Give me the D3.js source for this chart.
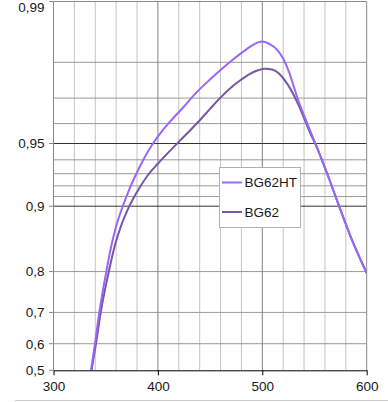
<!DOCTYPE html>
<html><head><meta charset="utf-8">
<script src="https://cdn.jsdelivr.net/npm/d3@7"></script>
<style>
html,body{margin:0;padding:0;background:#fff;}
svg{display:block;}
text{font-family:"Liberation Sans",Arial,sans-serif;font-size:13.5px;fill:#1a1a1a;}
</style></head>
<body>
<svg id="chart" width="388" height="402"></svg>
<script>
// ---- data ----
const seriesNames = ["BG62HT", "BG62"];
const wavelengthsHT = [335.9, 339.75, 343.87, 350.57, 355.56, 360.34, 366.09, 372.32, 379.02, 386.69, 394.35, 403.93, 413.51, 425.0, 436.49, 449.9, 461.4, 472.89, 484.39, 492.05, 499.71, 507.38, 514.08, 520.11, 525.57, 529.41, 532.95, 542.53, 551.44, 562.45, 572.8, 584.96, 600];
const transHT = [0.5, 0.6007, 0.6998, 0.7997, 0.8483, 0.8774, 0.8991, 0.9162, 0.9294, 0.9409, 0.9491, 0.9565, 0.9618, 0.9670, 0.9717, 0.9757, 0.9785, 0.9808, 0.9827, 0.9837, 0.9842, 0.9837, 0.9827, 0.9808, 0.9777, 0.9744, 0.9708, 0.9607, 0.9491, 0.9294, 0.9024, 0.8599, 0.7970];
const wavelengths62 = [336.4, 340.71, 345.21, 352.97, 358.91, 364.66, 370.4, 376.15, 382.85, 390.52, 400.1, 409.67, 419.25, 430.75, 440.33, 449.9, 459.48, 469.06, 478.64, 488.22, 495.88, 502.59, 509.29, 515.99, 521.74, 526.53, 531.32, 536.11, 540.9, 545.69, 551.44, 562.45, 572.8, 584.96, 600];
const trans62 = [0.5, 0.6007, 0.6998, 0.7997, 0.8483, 0.8761, 0.8946, 0.9075, 0.9189, 0.9290, 0.9375, 0.9445, 0.9505, 0.9568, 0.9616, 0.9661, 0.9700, 0.9731, 0.9754, 0.9772, 0.9781, 0.9785, 0.9783, 0.9773, 0.9754, 0.9732, 0.9702, 0.9663, 0.9614, 0.9558, 0.9489, 0.9294, 0.9024, 0.8599, 0.7970];
const xTicks = [300, 400, 500, 600];
const xMinorGrid = [320, 340, 360, 380, 420, 440, 460, 480, 520, 540, 560, 580];
const yTicks = [0.5, 0.6, 0.7, 0.8, 0.9, 0.95, 0.99];
const yTickLabels = ["0,5", "0,6", "0,7", "0,8", "0,9", "0,95", "0,99"];
const yGrid = [0.6, 0.7, 0.8, 0.91, 0.92, 0.93, 0.94, 0.96, 0.97, 0.98];
const yGridDark = [0.9, 0.95];
const colors = ["#9a66f7", "#7656a6"];

// ---- layout ----
const pLeft = 53.5, pRight = 366.7, pTop = 1.5, pBottom = 370.3;
const svg = d3.select("#chart");

// diabatic scale: log10(-log10(T))
const T = v => Math.log10(-Math.log10(v));
const yLin = d3.scaleLinear().domain([T(0.5), T(0.99)]).range([pBottom, pTop]);
const y = v => yLin(T(v));
const x = d3.scaleLinear().domain([300, 600]).range([pLeft, pRight]);

// bottom frame line
svg.append("line").attr("x1", 15).attr("x2", 388).attr("y1", 400.5).attr("y2", 400.5)
  .attr("stroke", "#c8c8c8").attr("stroke-width", 1);

const g = svg.append("g");
g.selectAll(".vmin").data(xMinorGrid).join("line")
  .attr("x1", d => x(d)).attr("x2", d => x(d)).attr("y1", pTop).attr("y2", pBottom)
  .attr("stroke", "#c4c4c4").attr("stroke-width", 1);
g.selectAll(".hg").data(yGrid).join("line")
  .attr("x1", pLeft).attr("x2", pRight).attr("y1", d => y(d)).attr("y2", d => y(d))
  .attr("stroke", "#9a9a9a").attr("stroke-width", 1);
g.selectAll(".vmaj").data([400, 500]).join("line")
  .attr("x1", d => x(d)).attr("x2", d => x(d)).attr("y1", pTop).attr("y2", pBottom)
  .attr("stroke", "#808080").attr("stroke-width", 1);
g.selectAll(".hd").data(yGridDark).join("line")
  .attr("x1", pLeft).attr("x2", pRight).attr("y1", d => y(d)).attr("y2", d => y(d))
  .attr("stroke", "#333").attr("stroke-width", 1);
g.append("path")
  .attr("d", `M${pLeft},${pBottom}V${pTop}H${pRight}V${pBottom}`)
  .attr("fill", "none").attr("stroke", "#888").attr("stroke-width", 1);

svg.append("clipPath").attr("id", "clip").append("rect")
  .attr("x", pLeft).attr("y", pTop).attr("width", pRight - pLeft).attr("height", pBottom - pTop);

const line = d3.line().x(d => x(d[0])).y(d => y(d[1])).curve(d3.curveMonotoneX);
const dataHT = wavelengthsHT.map((w, i) => [w, transHT[i]]);
const data62 = wavelengths62.map((w, i) => [w, trans62[i]]);
const curves = svg.append("g").attr("clip-path", "url(#clip)");
curves.append("path").datum(data62).attr("d", line)
  .attr("fill", "none").attr("stroke", colors[1]).attr("stroke-width", 2);
curves.append("path").datum(dataHT).attr("d", line)
  .attr("fill", "none").attr("stroke", colors[0]).attr("stroke-width", 2);

// x axis
const xAxis = d3.axisBottom(x).tickValues(xTicks).tickSize(5).tickSizeOuter(0).tickPadding(6);
const xa = svg.append("g").attr("transform", `translate(0,${pBottom})`).call(xAxis);
xa.attr("font-size", null).attr("font-family", null);
xa.select(".domain").attr("stroke", "#000");
xa.selectAll(".tick line").attr("stroke", "#000");
xa.selectAll("text").attr("fill", null);

// y axis
const ya = svg.append("g");
ya.selectAll(".yt").data(yTicks).join("line")
  .attr("x1", pLeft - 4.5).attr("x2", pLeft).attr("y1", d => y(d)).attr("y2", d => y(d))
  .attr("stroke", "#888");
ya.selectAll(".yl").data(yTicks).join("text")
  .attr("x", 44.5).attr("y", d => Math.max(y(d), 7.5))
  .attr("text-anchor", "end").attr("dy", "0.36em")
  .text((d, i) => yTickLabels[i]);

// legend
const leg = svg.append("g");
leg.append("rect").attr("x", 219.5).attr("y", 167.5).attr("width", 81).attr("height", 60)
  .attr("fill", "#fff").attr("stroke", "#b0b0b0");
seriesNames.forEach((n, i) => {
  const ly = 182.5 + i * 29.5;
  leg.append("line").attr("x1", 222).attr("x2", 242).attr("y1", ly).attr("y2", ly)
    .attr("stroke", colors[i]).attr("stroke-width", 2);
  leg.append("text").attr("x", 244.5).attr("y", ly).attr("dy", "0.36em").text(n);
});
</script>
</body></html>
